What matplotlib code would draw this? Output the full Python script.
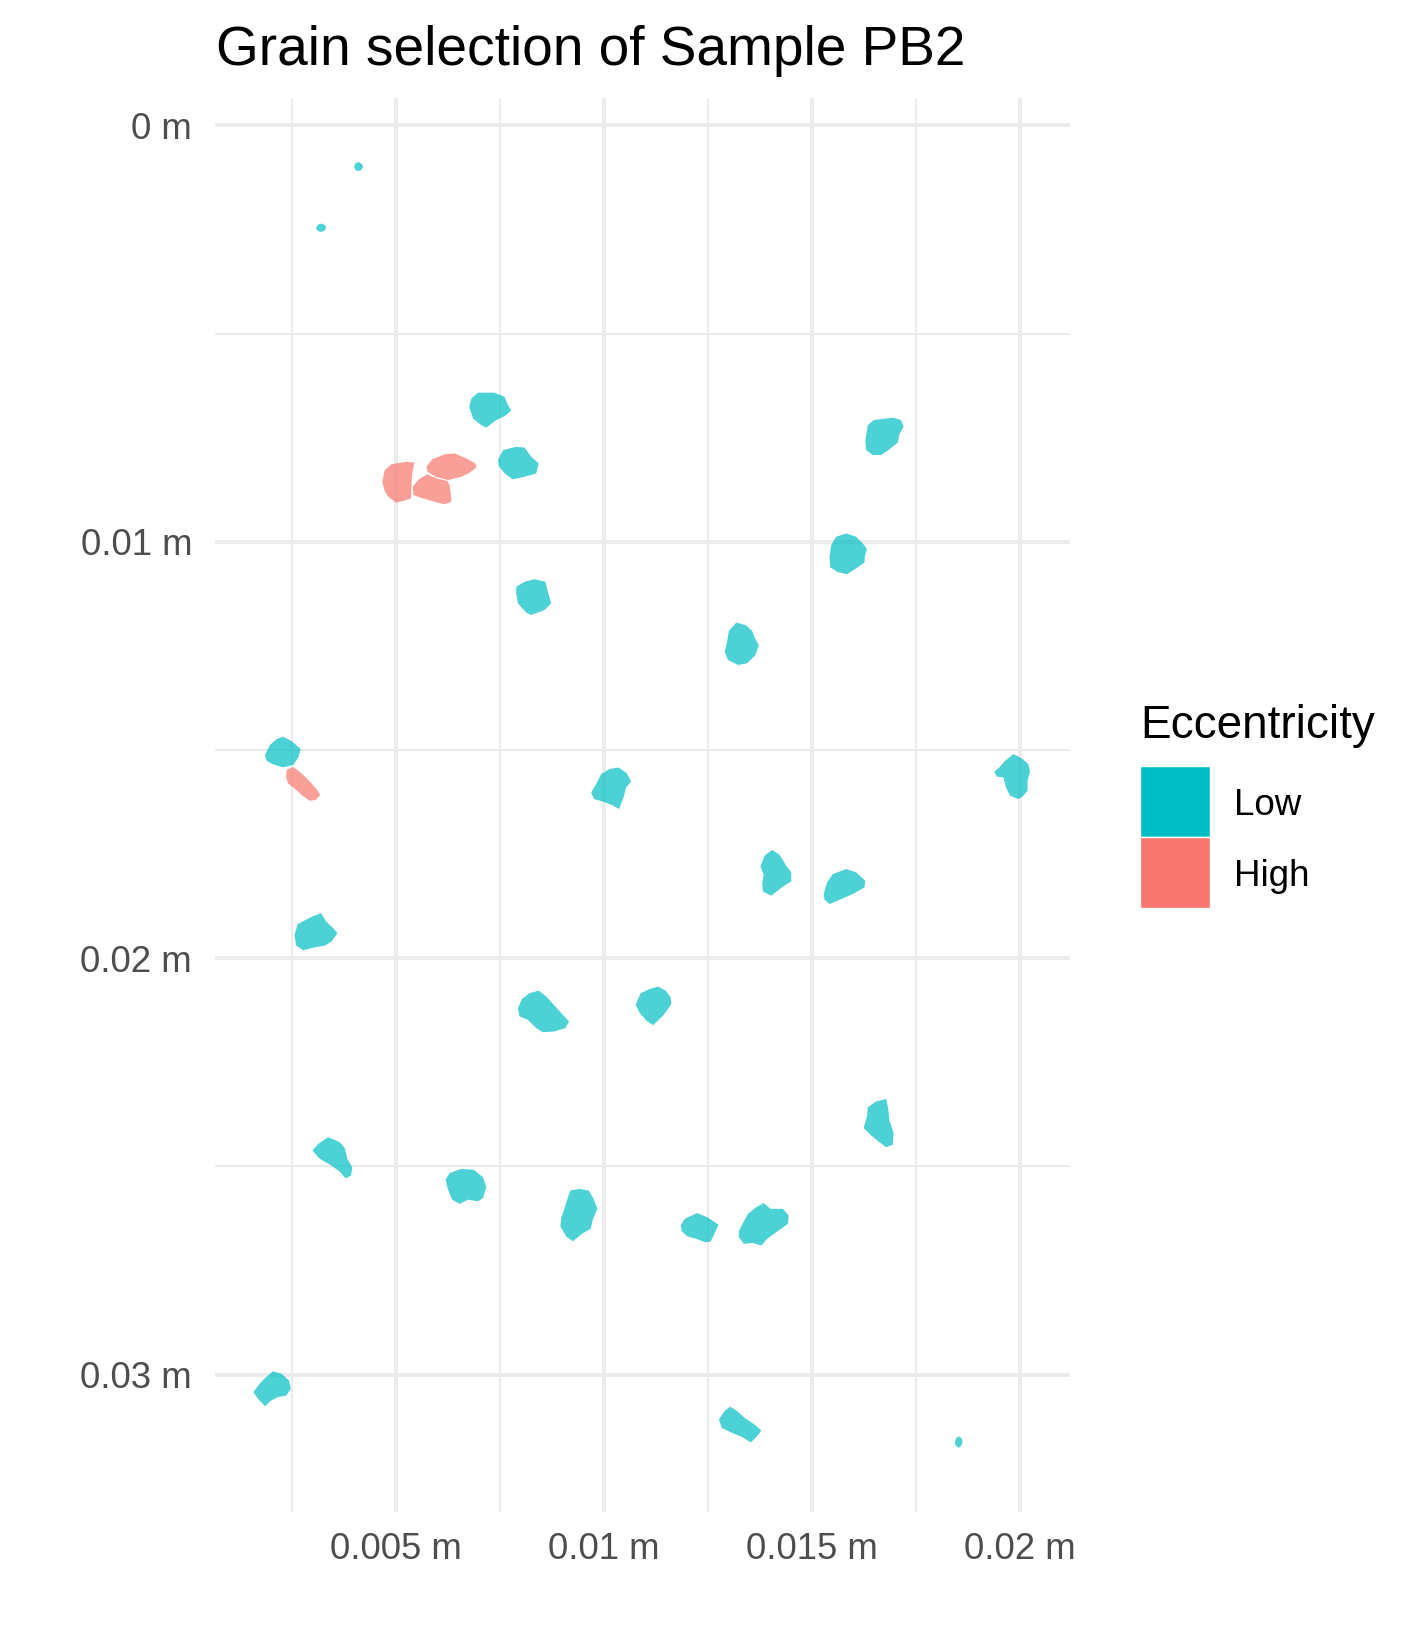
import matplotlib
matplotlib.use("Agg")
import matplotlib.pyplot as plt
from matplotlib.patches import Rectangle

plt.rcParams['font.family'] = ['Liberation Sans', 'DejaVu Sans']

# ---------------- data (grain outlines in millimetres) ----------------
title = "Grain selection of Sample PB2"
legend_title = "Eccentricity"
classes = ["Low", "High"]
class_colors = ["#00BFC4", "#F8766D"]

x_major = [0.005, 0.01, 0.015, 0.02]
x_labels = ["0.005 m", "0.01 m", "0.015 m", "0.02 m"]
x_minor = [0.0025, 0.0075, 0.0125, 0.0175]
y_major = [0.0, 0.01, 0.02, 0.03]
y_labels = ["0 m", "0.01 m", "0.02 m", "0.03 m"]
y_minor = [0.005, 0.015, 0.025]

grain_class = [
    "Low", "Low", "Low", "Low", "High", "High", "High", "Low", "Low", "Low",
    "High", "Low", "Low", "Low", "Low", "Low", "Low", "Low", "Low", "Low",
    "Low", "Low", "Low", "Low", "Low", "Low", "Low", "Low", "Low",
]

grain_x = [
    [3.99, 4.03, 4.11, 4.19, 4.21, 4.16, 4.08, 4.02],
    [3.08, 3.13, 3.22, 3.30, 3.32, 3.27, 3.18, 3.11],
    [6.76, 6.81, 6.97, 7.37, 7.61, 7.69, 7.77, 7.65, 7.41, 7.17, 7.05, 6.85],
    [7.45, 7.57, 7.89, 8.09, 8.25, 8.43, 8.37, 8.09, 7.81, 7.61, 7.47],
    [4.67, 4.73, 4.89, 5.25, 5.44, 5.39, 5.37, 5.36, 5.17, 5.00, 4.81, 4.72],
    [5.40, 5.55, 5.75, 5.97, 6.23, 6.29, 6.32, 6.33, 6.17, 5.93, 5.65, 5.42],
    [5.73, 5.87, 6.17, 6.41, 6.69, 6.91, 6.93, 6.77, 6.57, 6.25, 5.95, 5.76],
    [16.28, 16.34, 16.48, 16.78, 16.96, 17.14, 17.20, 17.10, 17.06, 16.86, 16.66, 16.46, 16.30],
    [7.89, 8.09, 8.33, 8.59, 8.65, 8.73, 8.57, 8.25, 8.13, 7.93, 7.89],
    [1.85, 1.97, 2.13, 2.29, 2.51, 2.71, 2.65, 2.53, 2.28, 2.03, 1.89],
    [2.37, 2.53, 2.75, 2.93, 3.09, 3.18, 3.07, 2.93, 2.75, 2.57, 2.40, 2.36],
    [9.69, 9.81, 9.93, 10.13, 10.35, 10.55, 10.65, 10.53, 10.47, 10.36, 10.19, 9.97, 9.76],
    [2.56, 2.64, 2.83, 3.03, 3.20, 3.32, 3.49, 3.59, 3.45, 3.29, 3.05, 2.77, 2.60],
    [15.42, 15.46, 15.58, 15.82, 16.06, 16.22, 16.32, 16.27, 16.26, 16.06, 15.84, 15.62, 15.44],
    [12.90, 12.96, 13.00, 13.18, 13.42, 13.56, 13.62, 13.72, 13.64, 13.44, 13.22, 12.98],
    [19.38, 19.50, 19.64, 19.84, 20.04, 20.20, 20.24, 20.18, 20.18, 20.06, 19.96, 19.76, 19.66, 19.60, 19.44],
    [13.76, 13.86, 14.04, 14.22, 14.38, 14.50, 14.50, 14.30, 14.02, 13.82, 13.80, 13.84],
    [15.28, 15.36, 15.50, 15.82, 16.06, 16.28, 16.26, 15.98, 15.66, 15.42, 15.30],
    [7.93, 8.03, 8.21, 8.43, 8.61, 8.81, 9.01, 9.16, 9.07, 8.81, 8.53, 8.37, 8.17, 7.97],
    [2.99, 3.13, 3.37, 3.65, 3.77, 3.83, 3.95, 3.92, 3.79, 3.65, 3.45, 3.17],
    [6.19, 6.29, 6.57, 6.87, 7.09, 7.17, 7.09, 6.97, 6.73, 6.53, 6.35, 6.25],
    [9.04, 9.12, 9.19, 9.41, 9.63, 9.75, 9.84, 9.73, 9.68, 9.47, 9.25, 9.09, 8.95, 8.97],
    [1.57, 1.77, 2.04, 2.25, 2.43, 2.47, 2.37, 2.17, 2.00, 1.85, 1.68],
    [12.76, 12.89, 13.03, 13.18, 13.38, 13.62, 13.78, 13.68, 13.53, 13.32, 13.03, 12.83],
    [18.43, 18.46, 18.53, 18.60, 18.62, 18.58, 18.52, 18.46],
    [10.76, 10.88, 11.10, 11.30, 11.48, 11.60, 11.62, 11.54, 11.42, 11.18, 11.02, 10.86],
    [16.24, 16.32, 16.34, 16.54, 16.78, 16.83, 16.86, 16.96, 16.94, 16.78, 16.62, 16.40],
    [11.84, 11.94, 12.24, 12.50, 12.75, 12.66, 12.56, 12.42, 12.22, 12.00, 11.87],
    [13.24, 13.34, 13.46, 13.66, 13.84, 14.00, 14.30, 14.44, 14.42, 14.14, 13.92, 13.78, 13.58, 13.36, 13.24],
]

grain_y = [
    [0.99, 0.91, 0.88, 0.94, 1.00, 1.08, 1.10, 1.06],
    [2.46, 2.38, 2.36, 2.40, 2.47, 2.54, 2.56, 2.53],
    [6.76, 6.56, 6.42, 6.42, 6.52, 6.72, 6.84, 6.96, 7.08, 7.26, 7.20, 7.04],
    [8.04, 7.80, 7.72, 7.74, 7.96, 8.12, 8.36, 8.44, 8.50, 8.36, 8.18],
    [8.56, 8.28, 8.14, 8.08, 8.10, 8.36, 8.64, 8.96, 9.02, 9.06, 8.92, 8.76],
    [8.68, 8.50, 8.38, 8.48, 8.54, 8.64, 8.88, 9.04, 9.10, 9.04, 8.96, 8.88],
    [8.20, 8.02, 7.90, 7.88, 8.00, 8.12, 8.22, 8.34, 8.44, 8.52, 8.44, 8.32],
    [7.56, 7.20, 7.08, 7.04, 7.02, 7.08, 7.24, 7.42, 7.62, 7.78, 7.92, 7.92, 7.80],
    [11.08, 10.96, 10.90, 10.96, 11.20, 11.48, 11.64, 11.76, 11.70, 11.48, 11.24],
    [15.12, 14.88, 14.74, 14.68, 14.80, 14.98, 15.18, 15.36, 15.42, 15.34, 15.26],
    [15.48, 15.41, 15.58, 15.76, 15.94, 16.08, 16.20, 16.22, 16.10, 15.93, 15.80, 15.64],
    [16.02, 15.82, 15.58, 15.46, 15.42, 15.56, 15.76, 15.90, 16.14, 16.42, 16.32, 16.24, 16.18],
    [19.44, 19.18, 19.08, 18.98, 18.92, 19.12, 19.28, 19.40, 19.60, 19.70, 19.74, 19.81, 19.70],
    [10.36, 10.08, 9.88, 9.80, 9.88, 10.04, 10.18, 10.34, 10.50, 10.64, 10.78, 10.73, 10.62],
    [12.64, 12.40, 12.14, 11.94, 12.01, 12.14, 12.30, 12.48, 12.72, 12.92, 12.96, 12.84],
    [15.52, 15.42, 15.26, 15.10, 15.20, 15.34, 15.52, 15.74, 15.98, 16.12, 16.18, 16.10, 15.90, 15.66, 15.64],
    [17.80, 17.54, 17.40, 17.52, 17.78, 17.94, 18.16, 18.28, 18.50, 18.40, 18.20, 18.00],
    [18.46, 18.18, 17.98, 17.86, 17.94, 18.14, 18.30, 18.46, 18.60, 18.70, 18.60],
    [21.20, 20.98, 20.84, 20.78, 20.92, 21.14, 21.36, 21.52, 21.68, 21.76, 21.78, 21.68, 21.48, 21.40],
    [24.62, 24.46, 24.30, 24.42, 24.56, 24.82, 25.02, 25.22, 25.29, 25.13, 24.98, 24.82],
    [25.32, 25.16, 25.06, 25.08, 25.26, 25.50, 25.76, 25.84, 25.80, 25.90, 25.80, 25.56],
    [26.04, 25.78, 25.58, 25.54, 25.58, 25.78, 26.02, 26.28, 26.50, 26.62, 26.80, 26.68, 26.44, 26.24],
    [30.42, 30.16, 29.92, 29.98, 30.14, 30.34, 30.50, 30.54, 30.62, 30.76, 30.58],
    [31.08, 30.88, 30.77, 30.86, 31.04, 31.20, 31.34, 31.48, 31.63, 31.50, 31.38, 31.28],
    [31.64, 31.53, 31.48, 31.54, 31.62, 31.72, 31.76, 31.71],
    [21.12, 20.84, 20.74, 20.68, 20.78, 20.94, 21.10, 21.22, 21.38, 21.61, 21.50, 21.32],
    [24.08, 23.80, 23.58, 23.44, 23.38, 23.60, 23.90, 24.20, 24.48, 24.54, 24.42, 24.24],
    [26.42, 26.26, 26.12, 26.23, 26.40, 26.60, 26.81, 26.82, 26.74, 26.68, 26.56],
    [26.56, 26.36, 26.14, 25.98, 25.88, 26.02, 26.02, 26.18, 26.38, 26.58, 26.74, 26.90, 26.84, 26.86, 26.70],
]

MM = 1e-3  # millimetres -> metres

# ---------------- figure ----------------
W, H = 1424, 1644
fig = plt.figure(figsize=(W / 100, H / 100), dpi=100)
fig.patch.set_facecolor("white")

ax = fig.add_axes([215 / W, (H - 1512) / H, 855 / W, 1414 / H])
ax.set_facecolor("white")
for s in ax.spines.values():
    s.set_visible(False)

color_of = dict(zip(classes, class_colors))
for xs, ys, cls in zip(grain_x, grain_y, grain_class):
    ax.fill([v * MM for v in xs], [v * MM for v in ys],
            facecolor=color_of[cls], edgecolor="none", alpha=0.7, lw=0, zorder=3)

ax.set_xlim(0.649e-3, 21.20e-3)
ax.set_ylim(33.30e-3, -0.656e-3)

ax.set_xticks(x_major)
ax.set_xticklabels(x_labels)
ax.set_xticks(x_minor, minor=True)
ax.set_yticks(y_major)
ax.set_yticklabels(y_labels)
ax.set_yticks(y_minor, minor=True)

ax.set_axisbelow(True)
ax.grid(which="major", color="#EBEBEB", lw=2.8)
ax.grid(which="minor", color="#EBEBEB", lw=1.4)
ax.tick_params(which="both", length=0)
ax.tick_params(axis="both", which="major", labelsize=26.3, labelcolor="#4D4D4D")
ax.tick_params(axis="y", pad=16.5)
ax.tick_params(axis="x", pad=14.5)

# title
fig.text(216 / W, 1 - 65 / H, title, fontsize=39.6, color="black",
         ha="left", va="baseline")

# legend (manual, ggplot style)
fig.text(1140 / W, 1 - 738 / H, legend_title, fontsize=33, color="black",
         ha="left", va="baseline")
key_x0, key_w, key_h, key_top = 1140, 70, 71, 766
for i, (cls, col) in enumerate(zip(classes, class_colors)):
    top = key_top + i * key_h
    fig.add_artist(Rectangle((key_x0 / W, 1 - (top + key_h) / H), key_w / W, key_h / H,
                             transform=fig.transFigure, facecolor=col,
                             edgecolor="white", lw=1))
    fig.text(1234 / W, 1 - (top + key_h / 2 + 13.5) / H, cls, fontsize=26.5,
             color="black", ha="left", va="baseline")

fig.savefig("out.png", dpi=100, facecolor="white")
